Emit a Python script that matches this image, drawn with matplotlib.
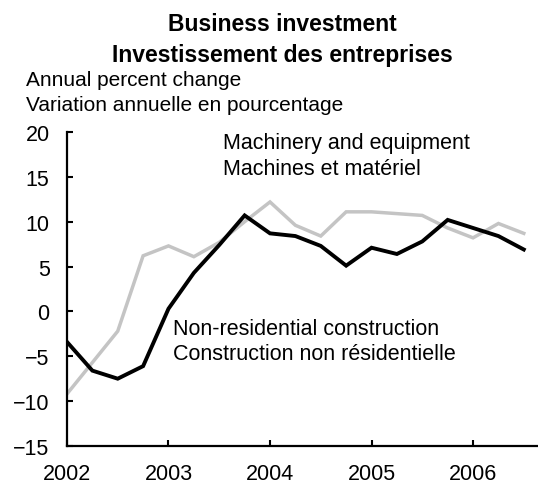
import numpy as np
import matplotlib
matplotlib.use("Agg")
import matplotlib.pyplot as plt

plt.rcParams['font.family'] = ['Liberation Sans', 'DejaVu Sans']

# quarterly, 2002Q1 .. 2006Q3
quarters = 2002 + np.arange(19) * 0.25
machinery = [-9.2, -5.7, -2.2, 6.2, 7.3, 6.1, 7.7, 10.0, 12.2, 9.6, 8.4, 11.1,
             11.1, 10.9, 10.7, 9.3, 8.2, 9.8, 8.7]
construction = [-3.4, -6.6, -7.5, -6.1, 0.3, 4.3, 7.4, 10.7, 8.7, 8.4, 7.3, 5.1,
                7.1, 6.4, 7.8, 10.2, 9.3, 8.4, 6.9]
years = [2002, 2003, 2004, 2005, 2006]
yticks = [-15, -10, -5, 0, 5, 10, 15, 20]

fig = plt.figure(figsize=(5.38, 4.85), dpi=100)
ax = fig.add_axes([0.1245, 0.0784, 0.8755, 0.6474])

ax.plot(quarters, machinery, color="#c4c4c4", lw=2.5, solid_joinstyle="miter")
ax.plot(quarters, construction, color="black", lw=2.8, solid_joinstyle="miter")

ax.set_xlim(2002, 2006.64)
ax.set_ylim(-15, 20)
ax.set_xticks(years)
ax.set_xticklabels([str(y) for y in years])
ax.set_yticks(yticks)
ax.tick_params(direction="in", length=4.5, width=1.5, labelsize=15.5)
ax.tick_params(axis="x", pad=12)
ax.tick_params(axis="y", pad=12.5)
for s in ["top", "right"]:
    ax.spines[s].set_visible(False)
for s in ["left", "bottom"]:
    ax.spines[s].set_linewidth(1.6)

ax.text(2003.537, 18.2, "Machinery and equipment", fontsize=15.5, va="baseline")
ax.text(2003.537, 15.3, "Machines et matériel", fontsize=15.5, va="baseline")
ax.text(2003.044, -2.5, "Non-residential construction", fontsize=15.5, va="baseline")
ax.text(2003.044, -5.3, "Construction non résidentielle", fontsize=15.5, va="baseline")

fig.text(0.525, 0.936, "Business investment", fontsize=16.5, fontweight="bold",
         ha="center", va="baseline")
fig.text(0.525, 0.872, "Investissement des entreprises", fontsize=16.5,
         fontweight="bold", ha="center", va="baseline")
fig.text(0.048, 0.8227, "Annual percent change", fontsize=15, va="baseline")
fig.text(0.048, 0.7711, "Variation annuelle en pourcentage", fontsize=15, va="baseline")

fig.savefig("out.png", dpi=100)
